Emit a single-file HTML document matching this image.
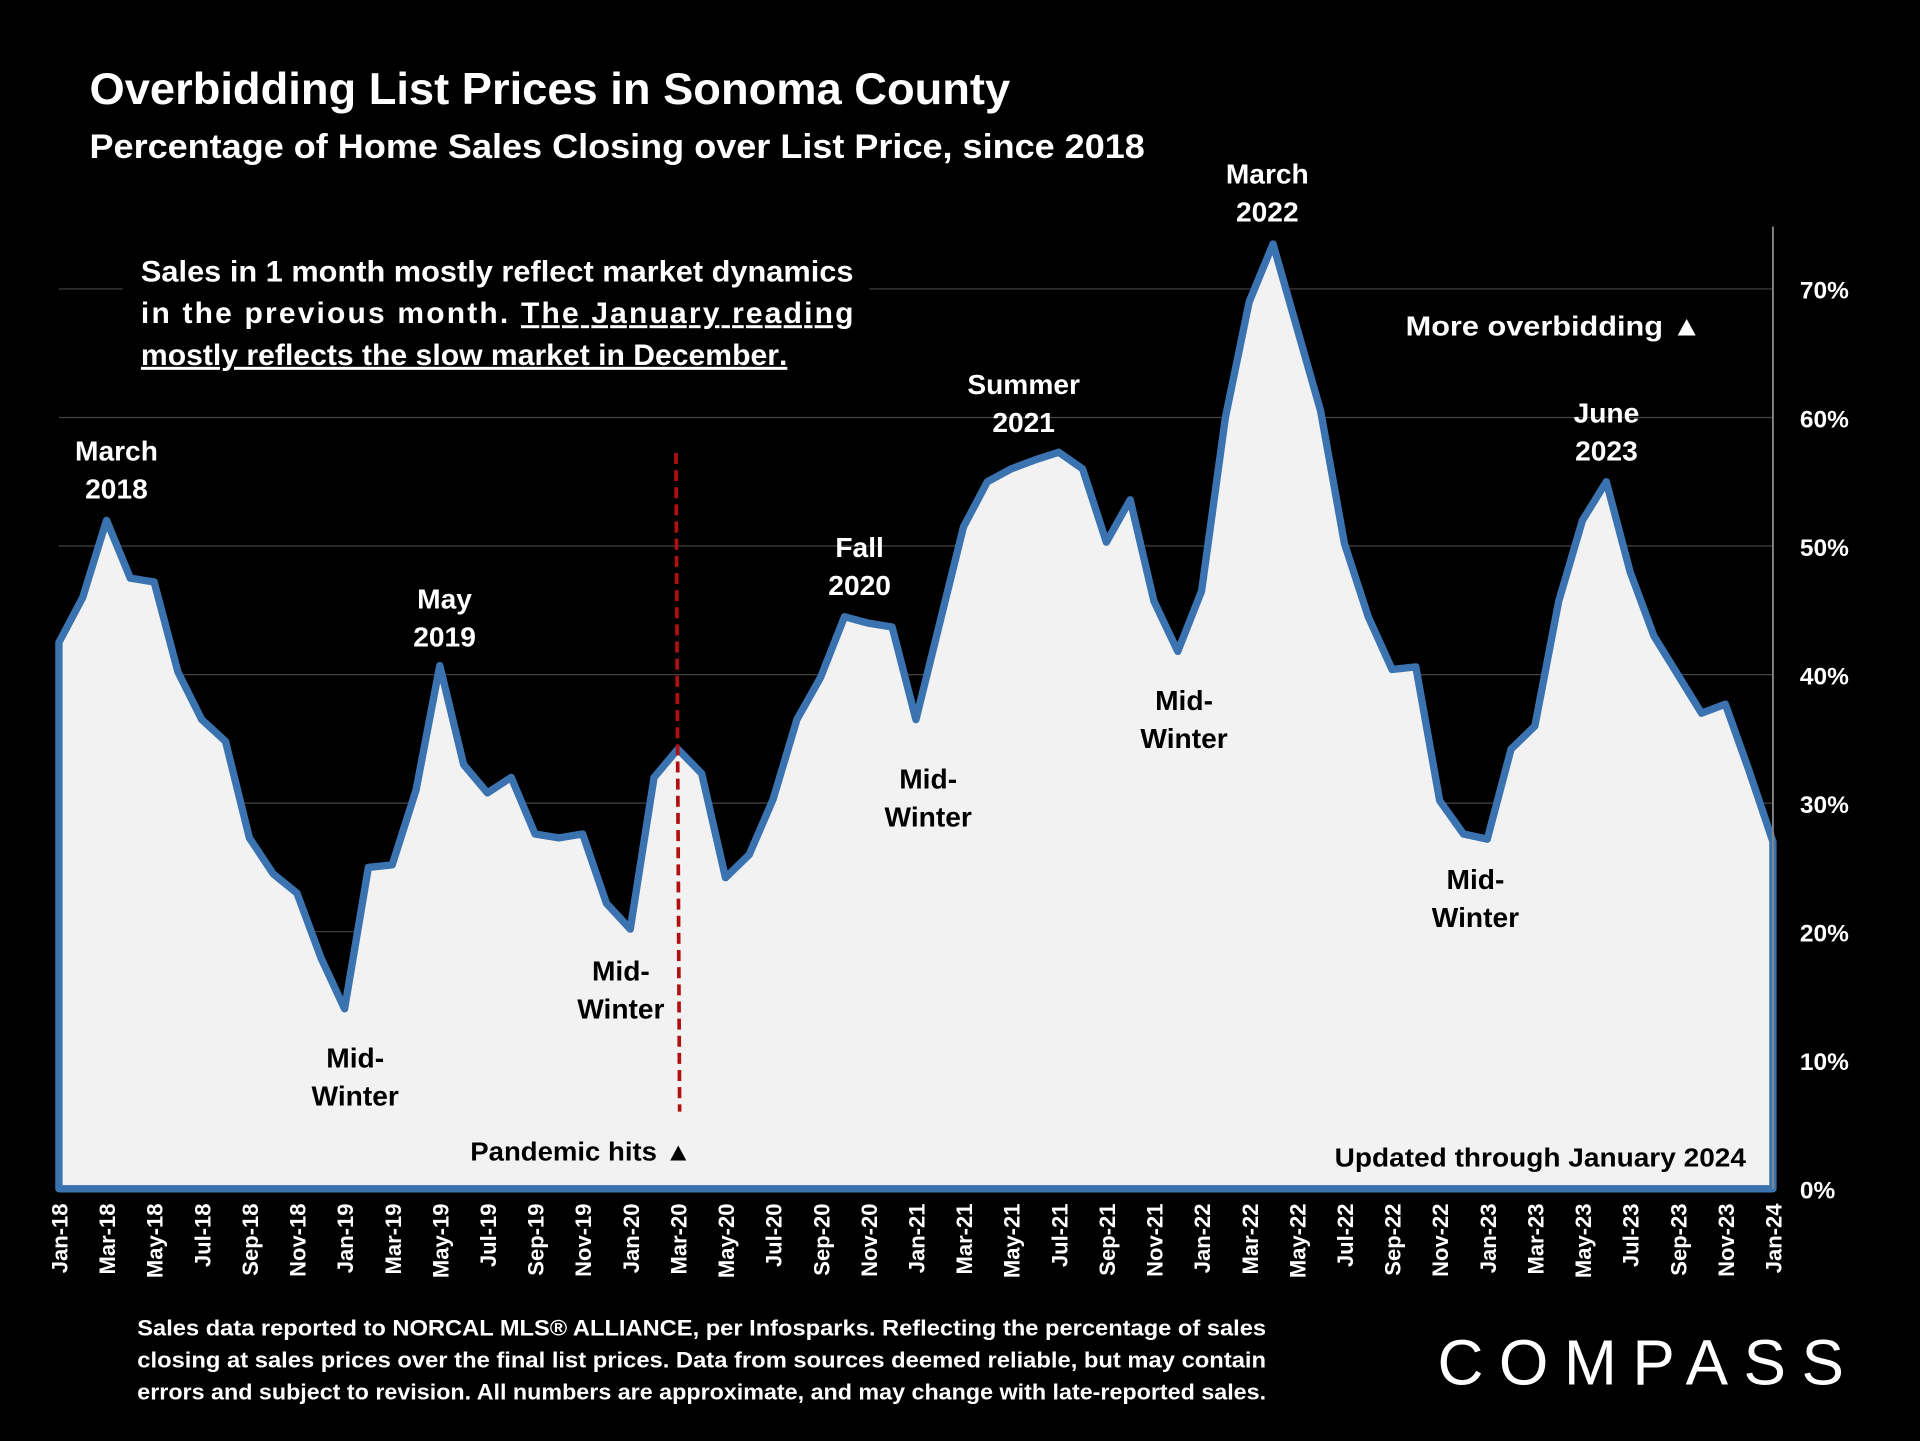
<!DOCTYPE html>
<html><head><meta charset="utf-8"><style>
html,body{margin:0;padding:0;background:#000;}
svg{display:block;}
text{font-family:"Liberation Sans",sans-serif;font-weight:bold;fill:#fff;}
</style></head><body>
<svg id="chart" width="1920" height="1441" viewBox="0 0 1568 1177" xmlns="http://www.w3.org/2000/svg">
<rect width="1568" height="1177" fill="#000"/>
<text x="73" y="85" font-size="36" textLength="752" lengthAdjust="spacingAndGlyphs">Overbidding List Prices in Sonoma County</text>
<text x="73" y="129" font-size="28" textLength="862" lengthAdjust="spacingAndGlyphs">Percentage of Home Sales Closing over List Price, since 2018</text>
<g id="grid"></g>
<g id="plot"></g>
<line x1="1448" y1="185" x2="1448" y2="971" stroke="#888" stroke-width="1.5"/>
<g id="yticks"></g>
<g id="xticks"></g>
<line x1="552" y1="370" x2="555" y2="908" stroke="#b01010" stroke-width="3" stroke-dasharray="9,5"/>
<g>
<rect x="100" y="198" width="610" height="112" fill="#000"/>
<text x="115" y="230" font-size="24.5" textLength="582" lengthAdjust="spacingAndGlyphs">Sales in 1 month mostly reflect market dynamics</text>
<text x="115" y="264" font-size="24.5" textLength="582" lengthAdjust="spacing">in the previous month. <tspan text-decoration="underline">The January reading</tspan></text>
<text x="115" y="298" font-size="24.5" text-decoration="underline" textLength="528" lengthAdjust="spacingAndGlyphs">mostly reflects the slow market in December<tspan text-decoration="none">.</tspan></text>
</g>
<g font-size="23" text-anchor="middle">
<text x="95" y="376">March</text><text x="95" y="407">2018</text>
<text x="363" y="497">May</text><text x="363" y="528">2019</text>
<text x="702" y="455">Fall</text><text x="702" y="486">2020</text>
<text x="836" y="322">Summer</text><text x="836" y="353">2021</text>
<text x="1035" y="150">March</text><text x="1035" y="181">2022</text>
<text x="1312" y="345">June</text><text x="1312" y="376">2023</text>
<text x="290" y="872" style="fill:#000">Mid-</text><text x="290" y="903" style="fill:#000">Winter</text>
<text x="507" y="801" style="fill:#000">Mid-</text><text x="507" y="832" style="fill:#000">Winter</text>
<text x="758" y="644" style="fill:#000">Mid-</text><text x="758" y="675" style="fill:#000">Winter</text>
<text x="967" y="580" style="fill:#000">Mid-</text><text x="967" y="611" style="fill:#000">Winter</text>
<text x="1205" y="726" style="fill:#000">Mid-</text><text x="1205" y="757" style="fill:#000">Winter</text>
</g>
<text x="1148" y="274" font-size="23" textLength="242" lengthAdjust="spacingAndGlyphs">More overbidding ▲</text>
<text x="384" y="948" font-size="21" style="fill:#000" textLength="181" lengthAdjust="spacingAndGlyphs">Pandemic hits ▲</text>
<text x="1090" y="953" font-size="21" style="fill:#000" textLength="336" lengthAdjust="spacingAndGlyphs">Updated through January 2024</text>
<g font-size="18.5">
<text x="112" y="1091" textLength="922" lengthAdjust="spacingAndGlyphs">Sales data reported to NORCAL MLS® ALLIANCE, per Infosparks. Reflecting the percentage of sales</text>
<text x="112" y="1117" textLength="922" lengthAdjust="spacingAndGlyphs">closing at sales prices over the final list prices. Data from sources deemed reliable, but may contain</text>
<text x="112" y="1143" textLength="922" lengthAdjust="spacingAndGlyphs">errors and subject to revision. All numbers are approximate, and may change with late-reported sales.</text>
</g>
<text x="1174" y="1131" font-size="52" style="font-weight:normal" textLength="332" lengthAdjust="spacing">COMPASS</text>
</svg>
<script>
const values = [42.5,46,52,47.5,47.2,40.2,36.5,34.8,27.3,24.5,23,18,
14,25,25.2,31,40.7,33,30.8,32,27.6,27.3,27.6,22.2,
20.2,32,34.2,32.3,24.2,26,30.3,36.5,39.8,44.5,44,43.7,
36.5,44,51.5,55,56,56.7,57.3,56,50.3,53.6,45.7,41.8,
46.5,60,69,73.5,67,60.5,50.2,44.5,40.4,40.6,30.2,27.6,
27.2,34.2,36,45.7,52,55,48,43,40,37,37.7,32.5,27];
const monthNames = ["Jan","Feb","Mar","Apr","May","Jun","Jul","Aug","Sep","Oct","Nov","Dec"];
const yTicks = [0,10,20,30,40,50,60,70];
const startYear = 18;
const NS="http://www.w3.org/2000/svg";
const X0=48,X1=1448,Y0=971,PX=10.5;
const n=values.length;
const xs=i=>X0+(X1-X0)*i/(n-1);
const ys=v=>Y0-v*PX;
function mk(t,a){const e=document.createElementNS(NS,t);for(const k in a)e.setAttribute(k,a[k]);return e;}
const grid=document.getElementById('grid'),plot=document.getElementById('plot'),yt=document.getElementById('yticks'),xt=document.getElementById('xticks');
yTicks.forEach(v=>{
 if(v>0){const l=mk('line',{x1:X0,x2:X1,y1:ys(v),y2:ys(v),stroke:'#444','stroke-width':1});
 
 
 grid.appendChild(l);}
 const t=mk('text',{x:1470,y:ys(v)+8,'font-size':20});t.textContent=v+'%';
 
 
 yt.appendChild(t);
});
let d='M'+X0+','+Y0;
values.forEach((v,i)=>{d+=' L'+xs(i).toFixed(2)+','+ys(v).toFixed(2);});
d+=' L'+X1+','+Y0+' Z';
const area=mk('path',{d:d,fill:'#f2f2f2',stroke:'#3a73b0','stroke-width':6,'stroke-linejoin':'round'});


plot.appendChild(area);
for(let i=0;i<n;i+=2){
 const lab=monthNames[i%12]+'-'+(startYear+Math.floor(i/12));
 const x=xs(i);
 const t=mk('text',{x:0,y:0,'font-size':18,'text-anchor':'end',transform:`translate(${x+7},983) rotate(-90)`});
 t.textContent=lab;
 
 
 xt.appendChild(t);
}
</script>
</body></html>
